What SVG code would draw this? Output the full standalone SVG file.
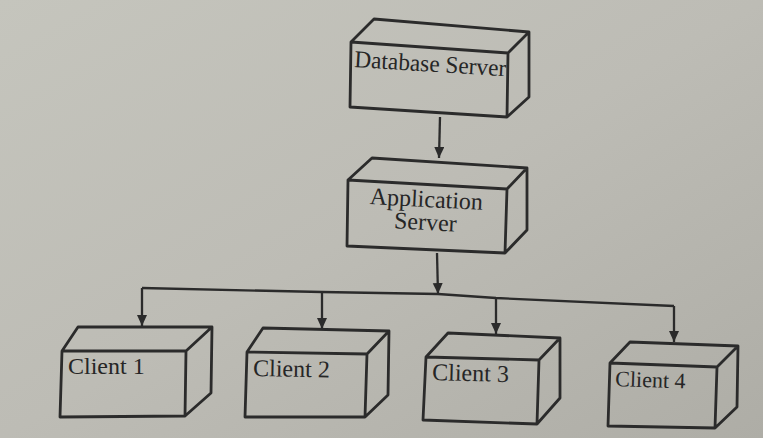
<svg xmlns="http://www.w3.org/2000/svg" width="763" height="438" viewBox="0 0 763 438">
<defs>
<linearGradient id="bg" x1="0" y1="0" x2="1" y2="1">
<stop offset="0" stop-color="#c5c5bd"/>
<stop offset="0.5" stop-color="#bdbcb5"/>
<stop offset="1" stop-color="#aeada6"/>
</linearGradient>
<marker id="arr" markerUnits="userSpaceOnUse" markerWidth="11" markerHeight="12" refX="11" refY="5" orient="auto">
<path d="M0,0 L11,5 L0,10 z" fill="#2b2b2b"/>
</marker>
<style>
.box{fill:none;stroke:#2b2b2b;stroke-width:2.8;stroke-linejoin:round}
.lbl{font-family:"Liberation Serif","Times New Roman",serif;font-size:24px;fill:#262626}
.con{fill:none;stroke:#2b2b2b;stroke-width:2.3}
</style>
</defs>
<rect width="763" height="438" fill="url(#bg)"/>

<g id="connectors">
<line class="con" x1="440" y1="117" x2="439" y2="158" marker-end="url(#arr)"/>
<line class="con" x1="437" y1="253" x2="438" y2="294" marker-end="url(#arr)"/>
<polyline class="con" points="142,288 322,292 438,294 496,298 674,306"/>
<line class="con" x1="142" y1="288" x2="142" y2="326" marker-end="url(#arr)"/>
<line class="con" x1="322" y1="292" x2="322" y2="329" marker-end="url(#arr)"/>
<line class="con" x1="496" y1="298" x2="496" y2="334" marker-end="url(#arr)"/>
<line class="con" x1="674" y1="306" x2="674" y2="342" marker-end="url(#arr)"/>
</g>

<g id="database-server">
<path class="box" d="M351,42 L508,53 L507,117 L350,107 Z M351,42 L374,19 L529,32 L508,53 M529,32 L529,97 L507,117"/>
<text class="lbl" x="354" y="67" textLength="152" lengthAdjust="spacingAndGlyphs" transform="rotate(3.5 354 67)">Database Server</text>
</g>

<g id="application-server">
<path class="box" d="M348,180 L507,189 L505,253 L347,246 Z M348,180 L372,158 L527,168 L507,189 M527,168 L527,230 L505,253"/>
<text class="lbl" x="426" y="207" text-anchor="middle" transform="rotate(3 426 207)">Application</text>
<text class="lbl" x="425" y="230" text-anchor="middle" transform="rotate(3 425 230)">Server</text>
</g>

<g id="client-1">
<path class="box" d="M62,351 L186,351 L185,416 L60,417 Z M62,351 L78,327 L212,327 L186,351 M212,327 L211,393 L185,416"/>
<text class="lbl" x="68" y="374">Client 1</text>
</g>

<g id="client-2">
<path class="box" d="M247,352 L367,354 L365,417 L245,417 Z M247,352 L263,328 L389,331 L367,354 M389,331 L388,395 L365,417"/>
<text class="lbl" x="253" y="376" transform="rotate(1 253 376)">Client 2</text>
</g>

<g id="client-3">
<path class="box" d="M426,357 L539,360 L537,424 L423,420 Z M426,357 L448,333 L560,338 L539,360 M560,338 L560,398 L537,424"/>
<text class="lbl" x="432" y="380" transform="rotate(1.5 432 380)">Client 3</text>
</g>

<g id="client-4">
<path class="box" d="M610,363 L717,367 L715,428 L608,426 Z M610,363 L630,342 L738,346 L717,367 M738,346 L737,407 L715,428"/>
<text class="lbl" x="615" y="386" style="font-size:22px" transform="rotate(2 615 386)">Client 4</text>
</g>
</svg>
